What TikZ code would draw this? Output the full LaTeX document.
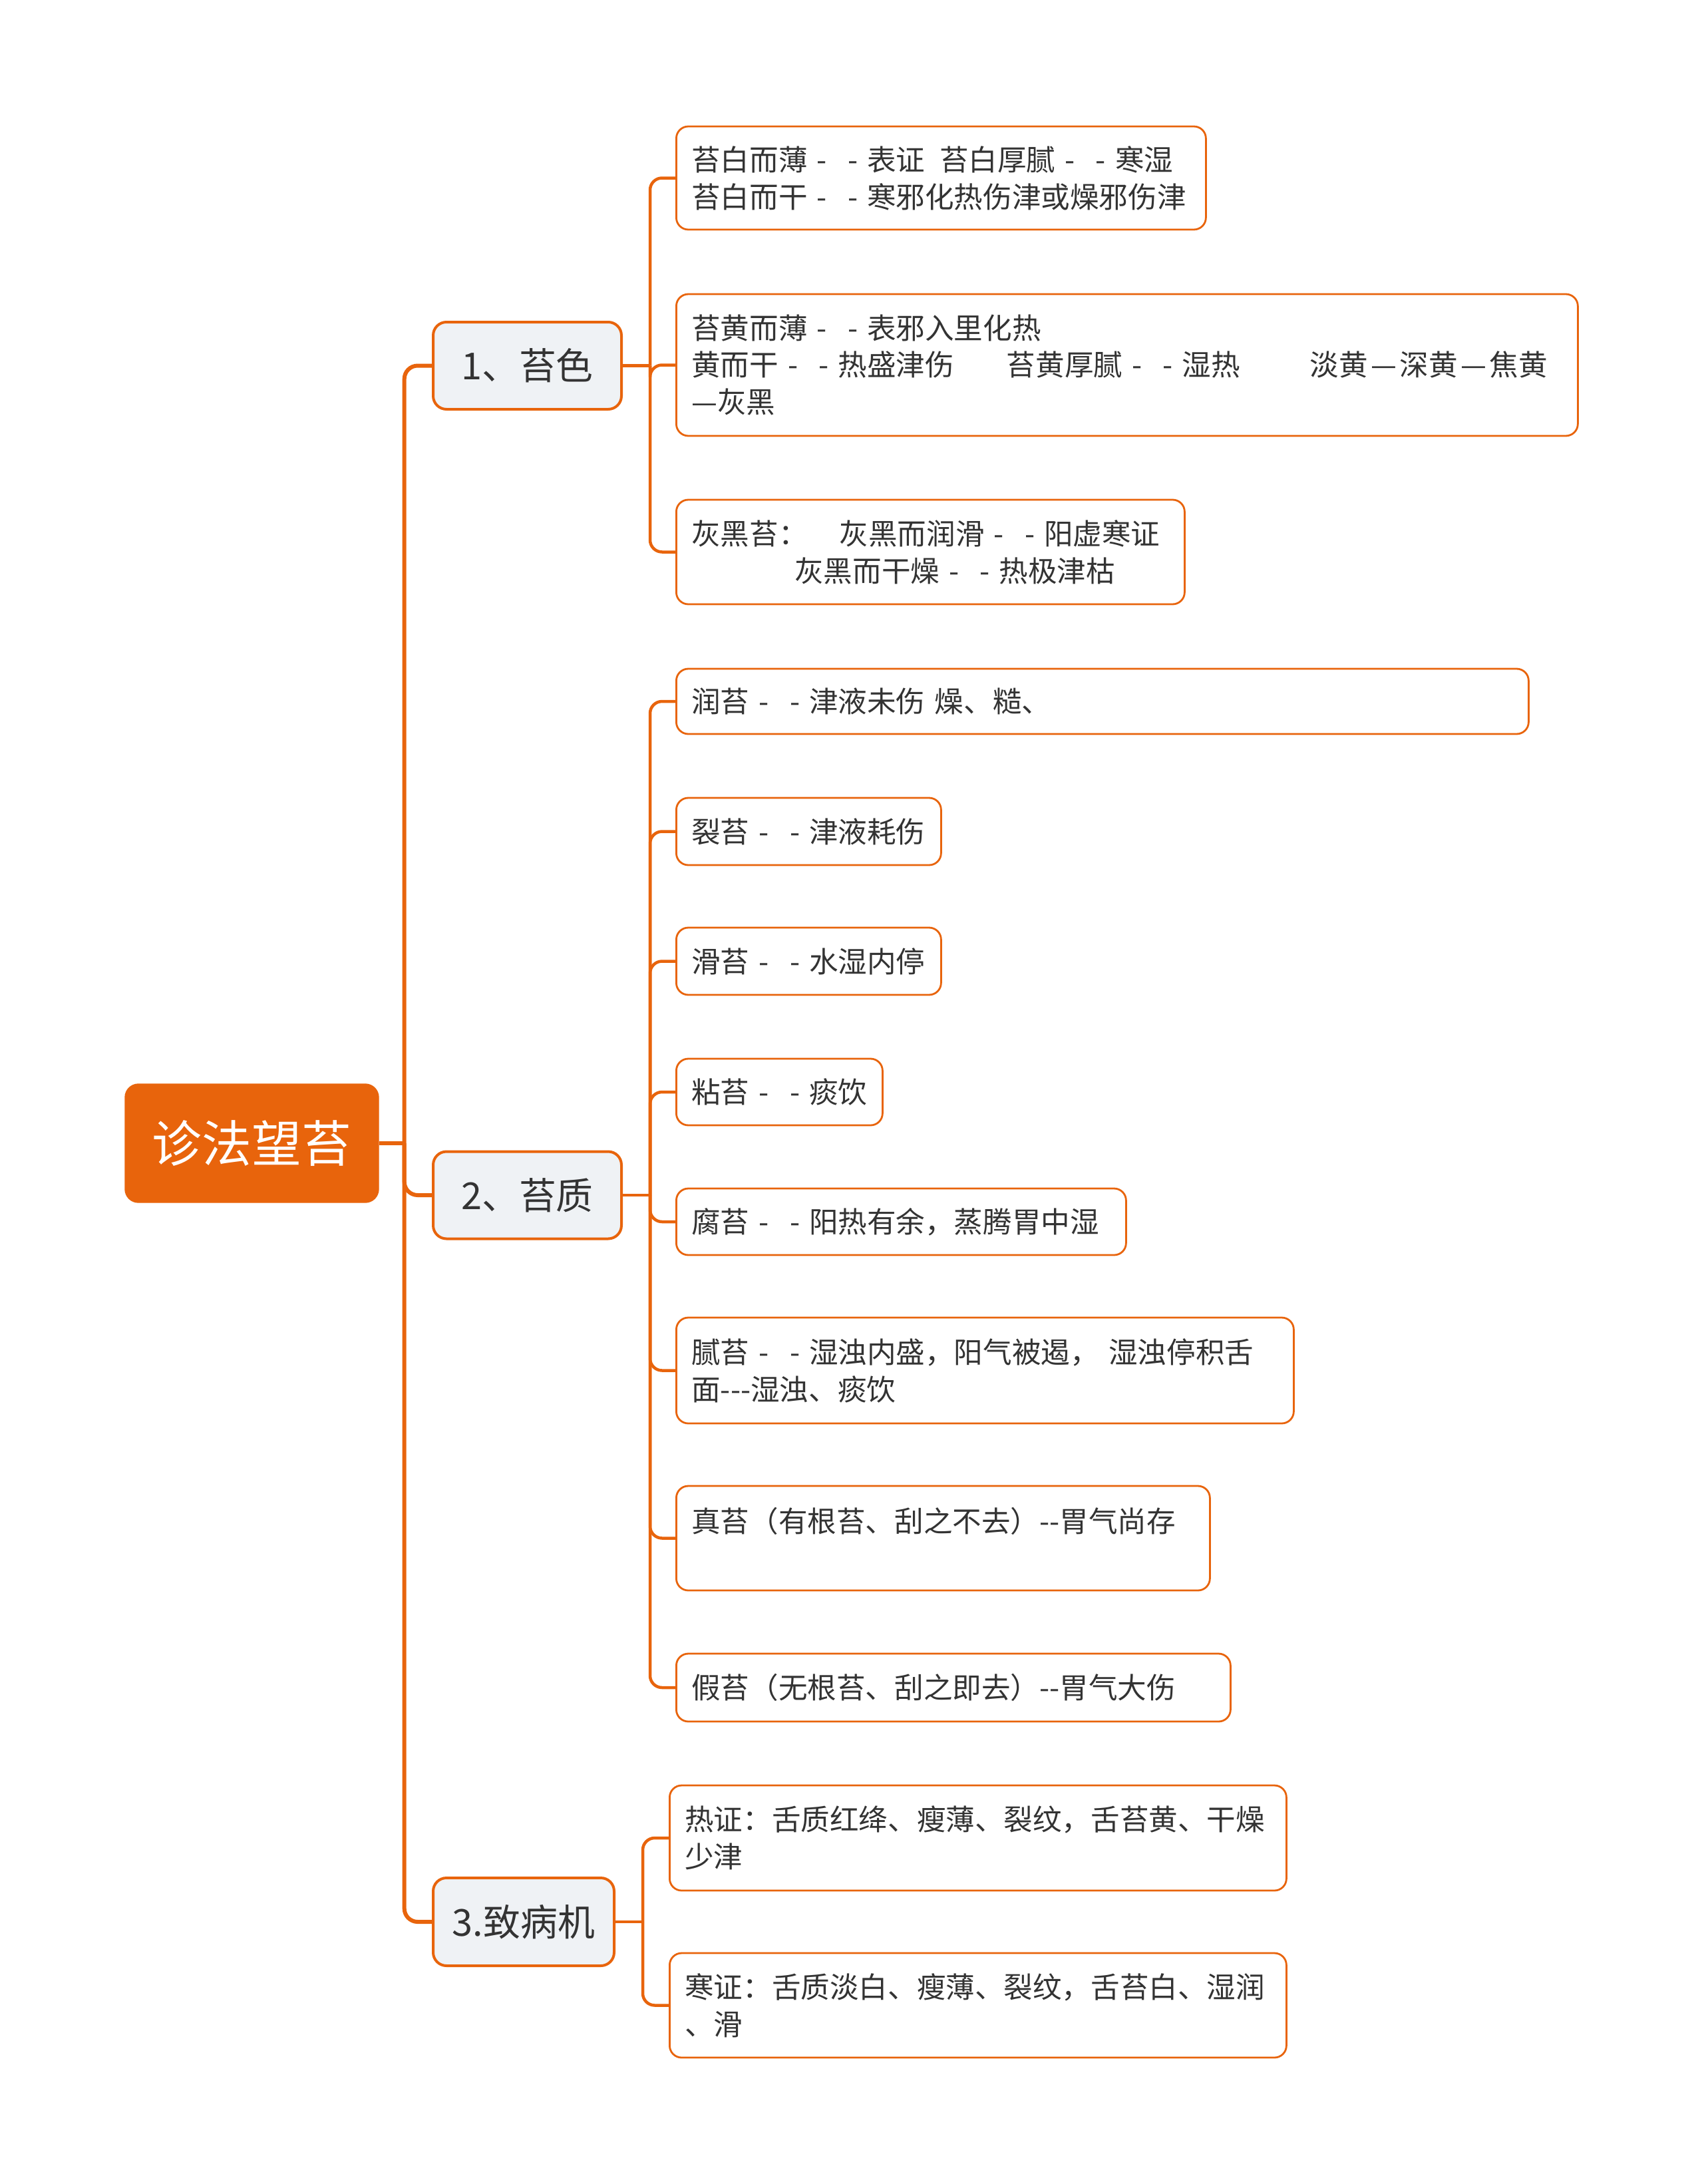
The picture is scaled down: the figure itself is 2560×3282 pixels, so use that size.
\documentclass[tikz,border=0pt]{standalone}
\usepackage{fontspec}
\setmainfont{Noto Sans CJK SC}
\definecolor{mmorange}{HTML}{E8640C}
\definecolor{mmfill}{HTML}{EFF2F5}
\definecolor{mmtext}{HTML}{333333}
\newcommand\dsh{\kern0.32em-\kern0.72em-\kern0.32em}
\tikzset{
  rootbox/.style={fill=mmorange, draw=mmorange, rounded corners=2mm, text=white,
    font=\fontsize{21.3}{26}\selectfont, minimum width=38.1mm, minimum height=17.8mm, inner sep=0pt},
  topicbox/.style={draw=mmorange, line width=0.4mm, fill=mmfill, rounded corners=2mm, text=mmtext,
    font=\fontsize{15.9}{19}\selectfont, inner sep=0pt, minimum height=13.1mm},
  leafbox/.style={draw=mmorange, line width=0.28mm, fill=white, rounded corners=1.8mm, text=mmtext,
    font=\fontsize{12.4}{15.9}\selectfont, align=left, anchor=west, inner xsep=2.3mm, inner ysep=0pt},
  trunk/.style={draw=mmorange, line width=0.6mm, rounded corners=2mm},
  twig/.style={draw=mmorange, line width=0.45mm, rounded corners=1.8mm}
}
\begin{document}
\begin{tikzpicture}[x=0.1mm, y=-0.1mm]
        \useasboundingbox (0,0) rectangle (2560,3282);
        %Root
        \node [rootbox] (root)at(378.5,1718){诊法望苔};
        %Topics
        \node [topicbox, minimum width=28.3mm] (t1)at(792.5,549.5){1、苔色};
        \node [topicbox, minimum width=28.3mm] (t2)at(792.5,1796){2、苔质};
        \node [topicbox, minimum width=27.2mm, minimum height=13.2mm] (t3)at(787,2888){3.致病机};

        %1 colour
        \node [leafbox, text width=75mm, minimum height=15.5mm]
        (a1)at(1015,267.5){苔白而薄\dsh 表证\hspace{0.5em}苔白厚腻\dsh 寒湿\\苔白而干\dsh 寒邪化热伤津或燥邪伤津};
        \node [leafbox, text width=130.9mm, minimum height=21.3mm]
        (a2)at(1015,548.5){苔黄而薄\dsh 表邪入里化热\\黄而干\dsh 热盛津伤\hspace{7.9mm}苔黄厚腻\dsh 湿热\hspace{10.5mm}淡黄\kern0.1em—\kern0.1em深黄\kern0.1em—\kern0.1em焦黄\\—灰黑};
        \node [leafbox, text width=71.8mm, minimum height=15.7mm]
        (a3)at(1015,829.5){灰黑苔：\hspace{4.8mm}灰黑而润滑\dsh 阳虚寒证\\\hspace{15.5mm}灰黑而干燥\dsh 热极津枯};

        %2 texture
        \node [leafbox, text width=123.5mm, minimum height=9.8mm]
        (b1)at(1015,1054){润苔\dsh 津液未伤 燥、糙、};
        \node [leafbox, text width=35.2mm, minimum height=10.1mm]
        (b2)at(1015,1249.5){裂苔\dsh 津液耗伤};
        \node [leafbox, text width=35.2mm, minimum height=10.1mm]
        (b3)at(1015,1444.5){滑苔\dsh 水湿内停};
        \node [leafbox, text width=26.4mm, minimum height=10mm]
        (b4)at(1015,1641){粘苔\dsh 痰饮};
        \node [leafbox, text width=63mm, minimum height=10mm]
        (b5)at(1015,1836){腐苔\dsh 阳热有余，蒸腾胃中湿};
        \node [leafbox, text width=88.2mm, minimum height=15.9mm]
        (b6)at(1015,2059.5){腻苔\dsh 湿浊内盛，阳气被遏，\ 湿浊停积舌\\面-\kern0pt-\kern0pt-湿浊、痰饮};
        \node [leafbox, text width=75.6mm, minimum height=15.7mm]
        (b7)at(1015,2311.5){真苔（有根苔、刮之不去）-\kern0pt-胃气尚存\\\mbox{}};
        \node [leafbox, text width=78.7mm, minimum height=10.2mm]
        (b8)at(1015,2536){假苔（无根苔、刮之即去）-\kern0pt-胃气大伤};

        %3 mechanism
        \node [leafbox, text width=88.1mm, minimum height=15.8mm]
        (c1)at(1005,2762){热证：舌质红绛、瘦薄、裂纹，舌苔黄、干燥\\少津};
        \node [leafbox, text width=88.1mm, minimum height=15.7mm]
        (c2)at(1005,3013.5){寒证：舌质淡白、瘦薄、裂纹，舌苔白、湿润\\、滑};

        %Connectors
        \coordinate (rj) at ([xshift=3.8mm]root.east);
        \draw [trunk](root.east)--(rj);
        \foreach \t in {t1,t2,t3} \draw [trunk](rj)|-(\t.west);

        \coordinate (t1j) at ([xshift=4.1mm]t1.east);
        \draw [twig](t1.east)--(t1j);
        \foreach \b in {a1,a2,a3} \draw [twig](t1j)|-(\b.west);

        \coordinate (t2j) at ([xshift=4.1mm]t2.east);
        \draw [twig](t2.east)--(t2j);
        \foreach \b in {b1,b2,b3,b4,b5,b6,b7,b8} \draw [twig](t2j)|-(\b.west);

        \coordinate (t3j) at ([xshift=4.1mm]t3.east);
        \draw [twig](t3.east)--(t3j);
        \foreach \b in {c1,c2} \draw [twig](t3j)|-(\b.west);

    \end{tikzpicture}
\end{document}
